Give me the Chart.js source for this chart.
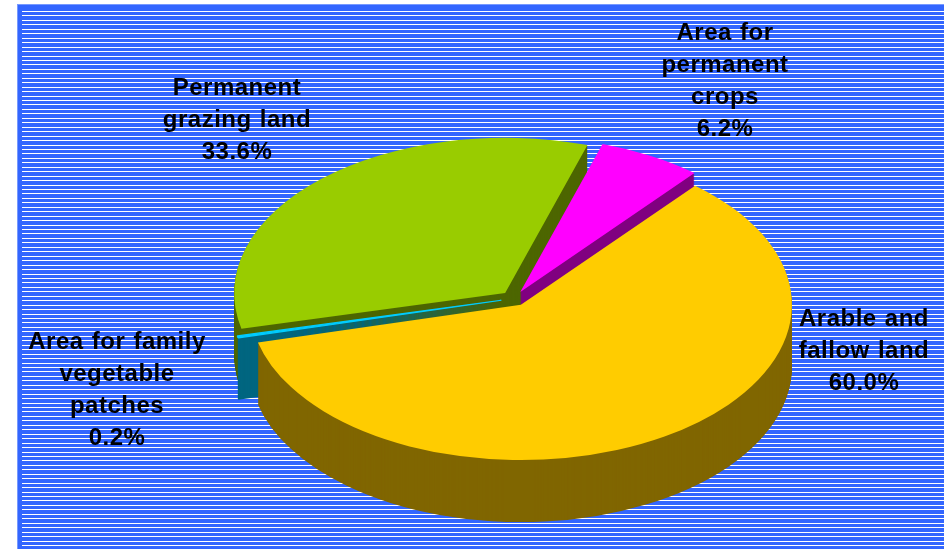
<!DOCTYPE html>
<html>
<head>
<meta charset="utf-8">
<title>Land use</title>
<script src="https://cdn.jsdelivr.net/npm/chart.js@4/dist/chart.umd.js"></script>
<style>
  html, body { margin: 0; padding: 0; background: #fff; }
  canvas { display: block; }
</style>
</head>
<body>
<canvas id="chart" width="944" height="549"></canvas>
<script>
const categories = ['Arable and\nfallow land', 'Area for family\nvegetable\npatches', 'Permanent\ngrazing land', 'Area for\npermanent\ncrops']
const shares = [60.0, 0.2, 33.6, 6.2]
const topColors = ['#ffcc00', '#00ccff', '#99cc00', '#ff00ff']
const sideColors = ['#806600', '#006680', '#4d6600', '#800080']
// where each label block is centred, first line baseline
const labelSpots = [[864, 326], [117, 349], [237, 95], [725, 40]]
// back to front
const drawOrder = [2, 3, 1, 0]

const squash = 0.573
const depth = 62
const explode = 13
const lineHeight = 32

const stripedPanel = {
  id: 'stripedPanel',
  beforeDraw(chart) {
    const c = chart.ctx
    c.save()
    c.fillStyle = '#fff'
    c.fillRect(0, 0, chart.width, chart.height)
    c.fillStyle = '#3366ff'
    c.fillRect(17, 4, chart.width - 17, chart.height - 4)
    c.fillStyle = '#7799ff'
    c.fillRect(17, 4, chart.width - 17, 1)
    c.fillRect(17, 4, 1, chart.height - 4)
    c.fillStyle = '#fff'
    for (let y = 11; y < chart.height - 1; y += 4.45) {
      c.fillRect(22, Math.round(y), chart.width - 22, 1)
    }
    c.restore()
  }
}

const tiltedPie = {
  id: 'tiltedPie',
  beforeDatasetsDraw(chart) {
    const c = chart.ctx
    const arcs = chart.getDatasetMeta(0).data

    drawOrder.forEach(i => {
      const arc = arcs[i]
      const {x, y, startAngle, endAngle, outerRadius} = arc
      const mid = (startAngle + endAngle) / 2

      c.save()
      c.translate(0, y)
      c.scale(1, squash)
      c.translate(0, -y)
      c.translate(Math.cos(mid) * explode, Math.sin(mid) * explode)

      // stack the wedge downwards for the side walls
      c.fillStyle = sideColors[i]
      for (let d = depth; d > 0; d--) {
        c.beginPath()
        c.moveTo(x, y + d / squash)
        c.arc(x, y + d / squash, outerRadius, startAngle, endAngle)
        c.closePath()
        c.fill()
      }

      arc.draw(c)
      c.restore()
    })
    return false
  }
}

const sliceLabels = {
  id: 'sliceLabels',
  afterDraw(chart) {
    const c = chart.ctx
    c.save()
    c.fillStyle = '#000'
    c.font = 'bold 24px "Liberation Sans", Arial, sans-serif'
    c.letterSpacing = '0.5px'
    c.wordSpacing = '1px'
    c.textAlign = 'center'
    categories.forEach((name, i) => {
      const lines = name.split('\n').concat(shares[i].toFixed(1) + '%')
      lines.forEach((line, n) => {
        c.fillText(line, labelSpots[i][0], labelSpots[i][1] + n * lineHeight)
      })
    })
    c.restore()
  }
}

new Chart(document.getElementById('chart'), {
  type: 'pie',
  data: {
    labels: categories,
    datasets: [{
      data: shares,
      backgroundColor: topColors,
      // the thin slice needs an outline or its top vanishes
      borderColor: topColors,
      borderWidth: [0, 2, 0, 0]
    }]
  },
  options: {
    responsive: false,
    animation: false,
    rotation: 40,
    radius: 271,
    layout: {padding: {left: 84, top: 48}},
    plugins: {legend: {display: false}, tooltip: {enabled: false}}
  },
  plugins: [stripedPanel, tiltedPie, sliceLabels]
})
</script>
</body>
</html>
